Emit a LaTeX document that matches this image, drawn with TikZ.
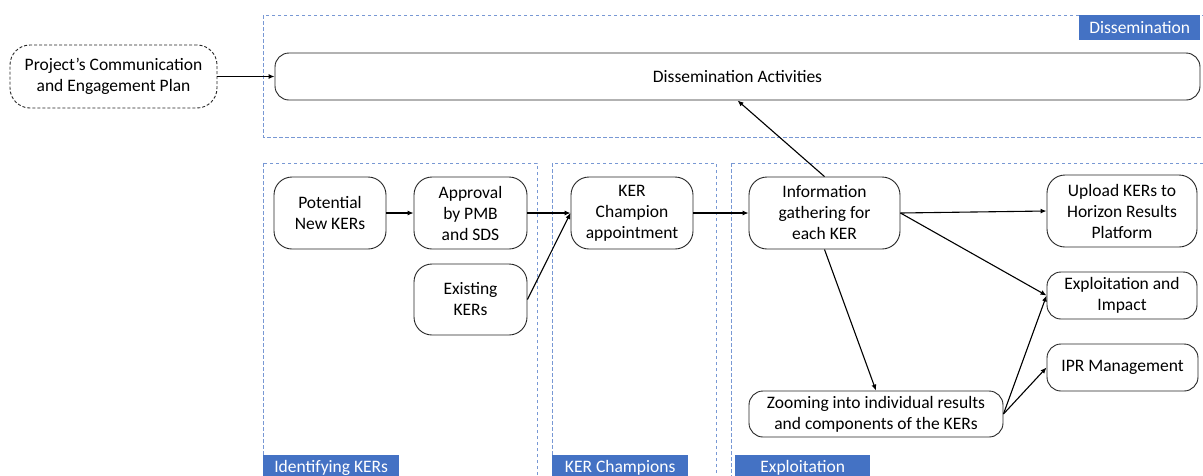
\documentclass[tikz,border=0pt]{standalone}
\usepackage{fontspec}
\setmainfont{Carlito}
\usetikzlibrary{arrows.meta}
\definecolor{dashblue}{RGB}{120,152,212}
\definecolor{labblue}{RGB}{68,114,196}
\tikzset{
  box/.style={draw=black!85, line width=0.9pt, rounded corners=14pt, align=center, inner sep=2pt,
    font=\fontsize{17.5}{21}\selectfont},
  dbox/.style={box, dashed, dash pattern=on 3pt off 2pt},
  area/.style={draw=dashblue, line width=0.9pt, dash pattern=on 3.5pt off 2.5pt},
  lab/.style={fill=labblue, text=white, font=\fontsize{17.5}{20}\selectfont, inner sep=0pt, anchor=north west},
  arr/.style={line width=1.1pt, -{Latex[length=6pt,width=5pt]}}
}
\begin{document}
\begin{tikzpicture}[x=1pt,y=-1pt]
\clip (0,0) rectangle (1203,475);
\fill[white] (0,0) rectangle (1203,475);
% areas
\draw[area] (263,15) rectangle (1215,137);
\draw[area] (263,163) rectangle (537,500);
\draw[area] (552,163) rectangle (716,500);
\draw[area] (731,163) rectangle (1215,500);
% labels
\node[lab, minimum width=121pt, minimum height=25pt] (ldiss) at (1079,15) {Dissemination};
\node[lab, minimum width=136pt, minimum height=25pt] (lident) at (263,455) {Identifying KERs};
\node[lab, minimum width=136pt, minimum height=25pt] (lchamp) at (552,455) {KER Champions};
\node[lab, minimum width=135pt, minimum height=25pt] (lexpl) at (735,455) {Exploitation};
% nodes
\node[dbox, minimum width=207pt, minimum height=63pt, rounded corners=20pt] (proj) at (113.5,76.5) {Project’s Communication\\and Engagement Plan};
\node[box, minimum width=925pt, minimum height=47pt] (dact) at (737.5,76.5) {Dissemination Activities};
\node[box, minimum width=112pt, minimum height=72pt, rounded corners=18pt] (pot) at (330,213) {Potential\\New KERs};
\node[box, minimum width=113pt, minimum height=72pt, rounded corners=18pt] (appr) at (470.5,213) {Approval\\by PMB\\and SDS};
\node[box, minimum width=113pt, minimum height=71pt, rounded corners=18pt] (exist) at (470.5,299.5) {Existing\\KERs};
\node[box, minimum width=122pt, minimum height=72pt, rounded corners=18pt] (champ) at (632,213) {KER\\Champion\\appointment};
\node[box, minimum width=151pt, minimum height=72pt, rounded corners=18pt] (info) at (824.5,213) {Information\\gathering for\\each KER};
\node[box, minimum width=150pt, minimum height=72pt, rounded corners=18pt] (upload) at (1122,211) {Upload KERs to\\Horizon Results\\Platform};
\node[box, minimum width=150pt, minimum height=47pt] (expimp) at (1122,295.5) {Exploitation and\\Impact};
\node[box, minimum width=151pt, minimum height=47pt] (ipr) at (1122.5,367.5) {IPR Management};
\node[box, minimum width=254pt, minimum height=46pt] (zoomk) at (876,414) {Zooming into individual results\\and components of the KERs};
% arrows
\draw[arr] (proj.east) -- (dact.west);
\draw[arr] (pot.east) -- (appr.west);
\draw[arr] (appr.east) -- (champ.west);
\draw[arr] (exist.east) -- (champ.west);
\draw[arr] (champ.east) -- (info.west);
\draw[arr] (info.north) -- (dact.south);
\draw[arr] (info.east) -- (upload.west);
\draw[arr] (info.east) -- (expimp.west);
\draw[arr] (info.south) -- (zoomk.north);
\draw[arr] (zoomk.east) -- (expimp.west);
\draw[arr] (zoomk.east) -- (ipr.west);
\end{tikzpicture}
\end{document}
